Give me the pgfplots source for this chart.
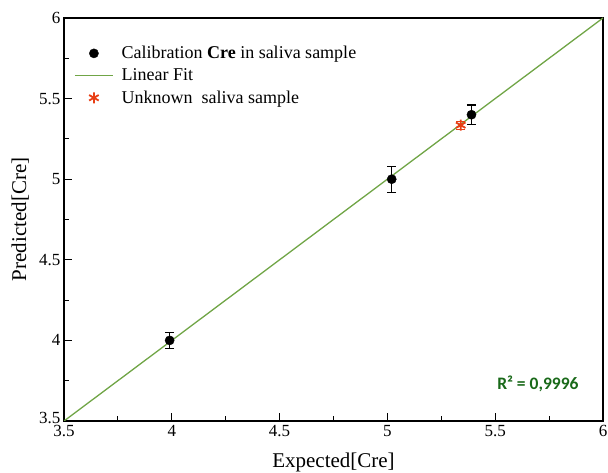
\documentclass[border=0pt]{standalone}
\usepackage{pgfplots}
\pgfplotsset{compat=1.18}
\usepackage{fontspec}
\setmainfont{Liberation Serif}
\newfontfamily\calibri{Carlito}
\definecolor{fitgreen}{RGB}{112,165,70}
\definecolor{rgreen}{RGB}{25,105,25}
\definecolor{starred}{RGB}{232,62,20}

\begin{document}
\begin{tikzpicture}
  \begin{axis}[
      width=539pt, height=403pt,
      scale only axis,
      xmin=3.5, xmax=6,
      ymin=3.5, ymax=6,
      xtick={3.5,4,4.5,5,5.5,6},
      xticklabels={3.5,4,4.5,5,5.5,6},
      ytick={3.5,4,4.5,5,5.5,6},
      yticklabels={\raisebox{6pt}{3.5},4,4.5,5,5.5,6},
      minor tick num=1,
      tick align=inside,
      xtick pos=bottom,
      ytick pos=left,
      major tick length=8pt,
      minor tick length=5pt,
      tick style={black, line width=1pt},
      axis line style={line width=1.1pt},
      ticklabel style={font=\fontsize{17}{17}\selectfont},
      xticklabel style={yshift=-1pt},
      xlabel={Expected[Cre]},
      ylabel={Predicted[Cre]},
      label style={font=\fontsize{21}{21}\selectfont},
      xlabel style={at={(axis description cs:0.5,-0.104)}, anchor=center},
      ylabel style={at={(axis description cs:-0.081,0.5)}, anchor=center},
      legend style={draw=none, fill=none, at={(0.013,0.94)}, anchor=north west,
                    font=\fontsize{18}{20}\selectfont, row sep=4.5pt,
                    /tikz/column 1/.style={column sep=6pt}},
      legend cell align=left,
      legend image code/.code={%
        \draw[mark repeat=2, mark phase=2, #1]
          plot coordinates {(0cm,0cm) (0.67cm,0cm) (1.34cm,0cm)};},
    ]
    % calibration points with error bars
    \addplot+[only marks, mark=*, mark size=4.6pt, black, mark options={fill=black},
              error bars/.cd, y dir=both, y explicit,
              error mark options={black, line width=1.1pt, mark size=4.5pt, rotate=90},
              error bar style={line width=1.1pt}]
      coordinates {
        (3.99,4.00) +- (0,0.05)
        (5.02,5.00) +- (0,0.08)
        (5.39,5.40) +- (0,0.06)
      };
    \addlegendentry{Calibration \textbf{Cre} in saliva sample}

    % linear fit
    \addplot[fitgreen, line width=1.3pt] coordinates {(3.5,3.5) (6,6)};
    \addlegendentry{Linear Fit}

    % unknown sample
    \addplot+[only marks, mark=asterisk, mark size=5.5pt, starred,
              mark options={line width=1.8pt},
              error bars/.cd, y dir=both, y explicit,
              error mark options={starred, line width=1.1pt, mark size=4.5pt, rotate=90},
              error bar style={starred, line width=1.1pt}]
      coordinates {(5.34,5.335) +- (0,0.025)};
    \addlegendentry{Unknown\ \ saliva sample}

    \node[font=\calibri\bfseries\fontsize{17.5}{17.5}\selectfont, text=rgreen]
      at (axis cs:5.698,3.73) {R² = 0,9996};
  \end{axis}
  \pgfresetboundingbox
  \path[use as bounding box]
    ([xshift=-64pt,yshift=-52pt]current axis.south west)
    rectangle ([xshift=5pt,yshift=18pt]current axis.north east);
\end{tikzpicture}
\end{document}
